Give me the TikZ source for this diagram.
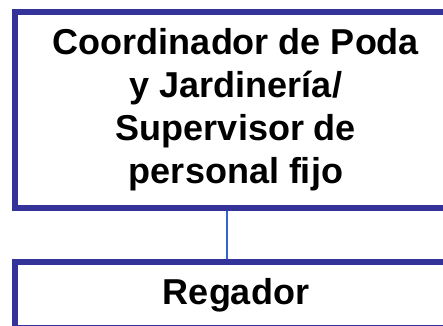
\documentclass[tikz,border=0pt]{standalone}
\usepackage{fontspec}
\setmainfont{Liberation Sans}
\definecolor{boxblue}{HTML}{333399}
\definecolor{linkblue}{HTML}{3366CC}
\tikzset{
  orgbox/.style={draw=boxblue, line width=6pt, rectangle, anchor=north west, inner sep=0pt,
    align=center, font=\fontsize{36}{43}\selectfont\bfseries, text=black},
  link/.style={draw=linkblue, line width=2pt}
}
\begin{document}
\begin{tikzpicture}[x=1pt,y=-1pt]
\useasboundingbox (0,0) rectangle (443,325);
\clip (0,0) rectangle (443,325);
\node[orgbox, minimum width=442pt, minimum height=196pt] (top) at (12,9)
  {Coordinador de Poda\\y Jardinería/\\Supervisor de\\personal fijo};
\node[orgbox, minimum width=442pt, minimum height=66pt] (bot) at (12,259) {Regador};
\coordinate (ca) at (227,205);
\coordinate (cb) at (227,259);
\draw[link] (top.south -| ca) -- (bot.north -| cb);
\end{tikzpicture}
\end{document}
